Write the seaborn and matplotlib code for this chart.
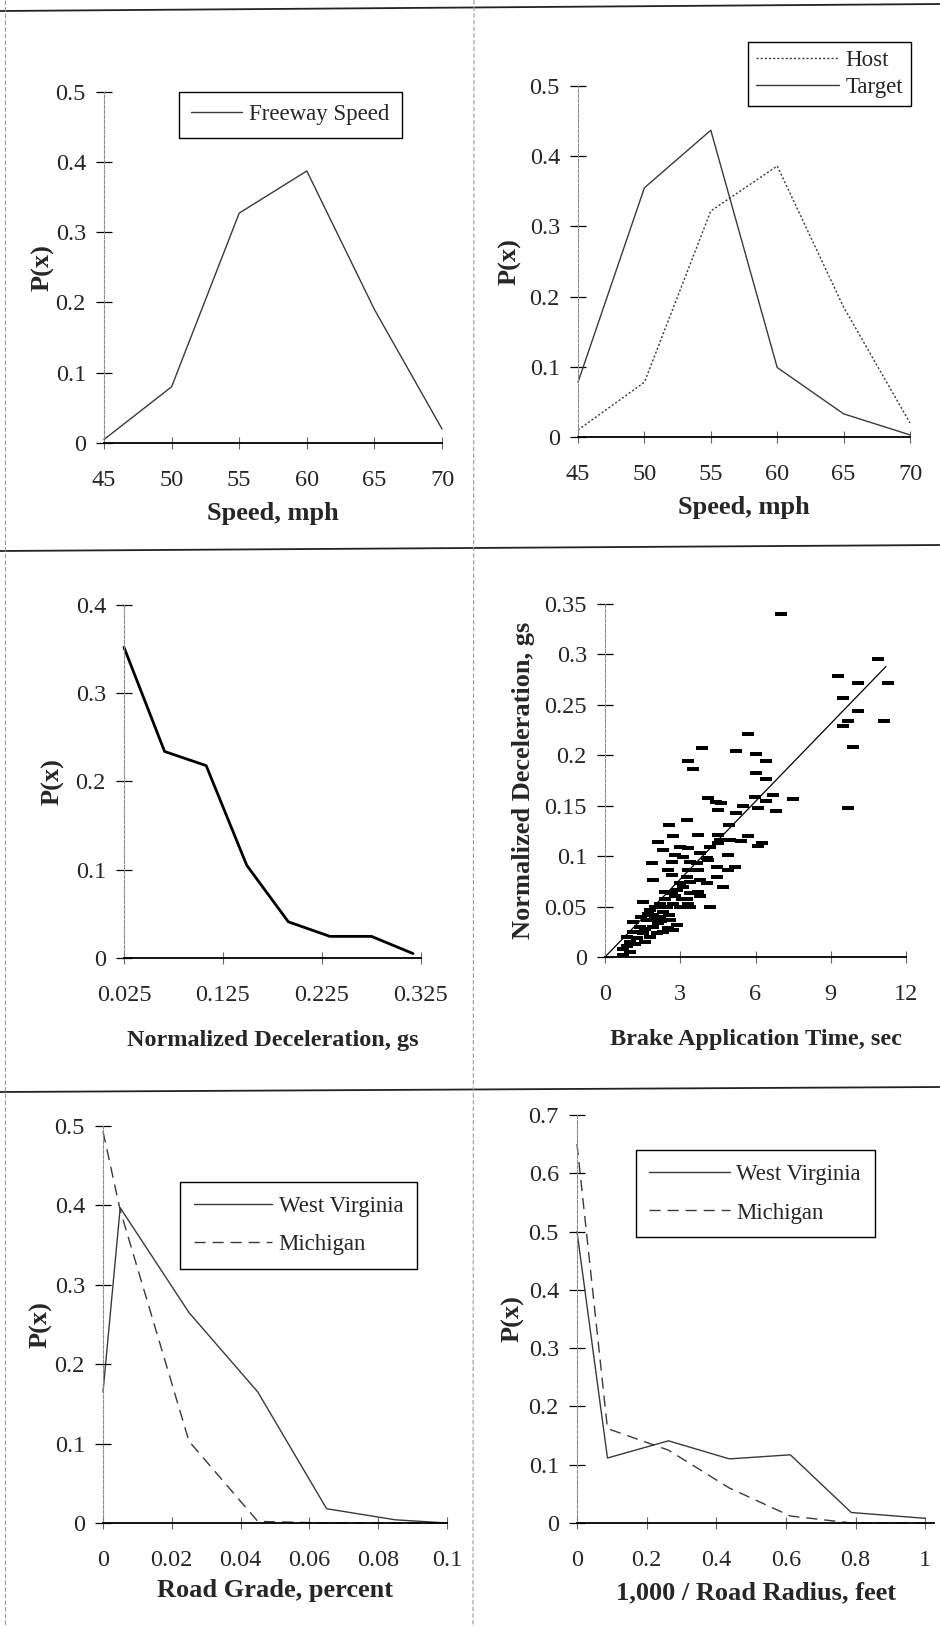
import matplotlib

matplotlib.use("Agg")

import matplotlib.pyplot as plt
import numpy as np
import pandas as pd
import seaborn as sns
from matplotlib.lines import Line2D
from matplotlib.ticker import FuncFormatter

# --- data ---
speed_mph = [45, 50, 55, 60, 65, 70]
freeway_p = [0.005, 0.08, 0.327, 0.387, 0.19, 0.02]
host_p = [0.01, 0.078, 0.322, 0.386, 0.185, 0.02]
target_p = [0.078, 0.355, 0.437, 0.099, 0.033, 0.003]

decel_gs = [0.025, 0.066, 0.108, 0.149, 0.191, 0.233, 0.275, 0.317]
decel_p = [0.352, 0.234, 0.218, 0.105, 0.041, 0.0245, 0.0245, 0.005]

brake_time = [
    7.03, 10.88, 9.28, 11.27, 10.08, 9.48, 10.08, 9.68, 11.14, 9.48, 9.88, 9.68,
    5.70, 5.24, 6.03, 6.43, 6.03, 6.43, 5.97, 6.70, 6.10, 6.43, 6.83, 7.49, 5.50,
    5.24, 5.70, 5.44, 6.27, 6.10,
    3.87, 3.32, 3.51, 4.11, 4.44, 4.64, 4.51, 3.25, 2.56, 4.95, 3.71, 2.72, 4.51,
    4.58, 4.97,
    2.12, 2.99, 3.32, 4.18, 4.51, 2.32, 2.79, 3.12, 3.78, 4.05, 4.91,
    1.86, 2.66, 3.39, 3.65, 4.12, 4.45, 5.18, 4.91, 2.52, 2.66, 3.32, 3.72, 4.45,
    1.93, 3.26, 2.99, 3.39, 3.78, 4.05, 4.71, 2.39, 2.66, 2.86, 3.12, 3.39, 3.72,
    3.26, 3.78, 1.53, 2.19, 2.46, 2.72, 2.99, 3.32, 3.39, 4.18, 1.79, 1.93, 2.19,
    1.66, 2.12, 2.59, 1.13, 1.39, 2.86, 2.52, 1.13, 1.53, 1.79, 2.06, 0.86, 1.26,
    2.72, 1.60, 1.90, 2.30, 2.00, 1.70, 2.40, 2.80, 2.00, 1.45, 1.00, 0.73, 0.99,
    0.86, 1.20, 0.70, 1.60, 2.30, 2.55, 3.05, 2.25,
]
brake_decel = [
    0.340, 0.295, 0.279, 0.272, 0.272, 0.257, 0.244, 0.234, 0.234, 0.229, 0.208, 0.148,
    0.221, 0.204, 0.201, 0.194, 0.182, 0.176, 0.159, 0.161, 0.148, 0.155, 0.145, 0.157, 0.150,
    0.143, 0.120, 0.115, 0.113, 0.110,
    0.207, 0.194, 0.186, 0.158, 0.154, 0.153, 0.146, 0.136, 0.131, 0.131, 0.121, 0.120, 0.121,
    0.116, 0.116,
    0.114, 0.109, 0.108, 0.109, 0.113, 0.106, 0.101, 0.0995, 0.103, 0.098, 0.101,
    0.093, 0.0945, 0.0945, 0.093, 0.096, 0.0896, 0.0896, 0.086, 0.086, 0.081, 0.086, 0.086, 0.0797,
    0.076, 0.0797, 0.073, 0.0747, 0.076, 0.073, 0.0698, 0.0648, 0.063, 0.0665, 0.0698, 0.063, 0.0648,
    0.058, 0.060, 0.055, 0.053, 0.050, 0.053, 0.050, 0.053, 0.050, 0.050, 0.0466, 0.0417, 0.040,
    0.0367, 0.0334, 0.0367, 0.035, 0.030, 0.0317, 0.0284, 0.025, 0.0235, 0.020, 0.0235, 0.020, 0.0185,
    0.0268, 0.028, 0.030, 0.045, 0.050, 0.043, 0.058, 0.060, 0.038, 0.040, 0.015, 0.002, 0.005,
    0.011, 0.013, 0.008, 0.015, 0.025, 0.042, 0.058, 0.036,
]
trend_time = [0.0, 11.2]
trend_decel = [0.0, 0.288]

road_grade = [0, 0.005, 0.025, 0.045, 0.065, 0.085, 0.1]
grade_wv = [0.165, 0.397, 0.265, 0.165, 0.018, 0.004, 0.0]
grade_mi = [0.493, 0.394, 0.103, 0.002, 0.0, 0.0, 0.0]

curvature = [0, 0.0875, 0.2625, 0.4375, 0.6125, 0.7875, 1.0]
curv_wv = [0.50, 0.1115, 0.141, 0.11, 0.117, 0.018, 0.008]
curv_mi = [0.65, 0.162, 0.125, 0.06, 0.012, 0.0, 0.0]

W, H = 940, 1627

sns.set_style("white")
plt.rcParams["font.family"] = ["Liberation Serif", "DejaVu Serif"]

fig = plt.figure(figsize=(W / 100, H / 100), dpi=100)
fig.patch.set_facecolor("white")

LINE = "#3a3a3a"
fmt = FuncFormatter(lambda v, _: f"{v:g}")


def add_panel(left, right, top, bottom):
    ax = fig.add_axes([left / W, 1 - bottom / H, (right - left) / W, (bottom - top) / H])
    ax.set_facecolor("none")
    sns.despine(ax=ax)
    ax.spines["left"].set_color("#8a8a8a")
    ax.spines["left"].set_linewidth(0.8)
    ax.spines["left"].set_linestyle((0, (3, 1.5)))
    ax.spines["bottom"].set_color("black")
    ax.spines["bottom"].set_linewidth(1.3)
    ax.tick_params(axis="y", direction="inout", length=12, width=0.9, color="black",
                   labelsize=17.5, pad=7, left=True)
    ax.tick_params(axis="x", direction="inout", length=9, width=0.8, color="#666666",
                   labelsize=17.5, pad=15, bottom=True)
    ax.xaxis.set_major_formatter(fmt)
    ax.yaxis.set_major_formatter(fmt)
    return ax


def labels(ax, xlabel, ylabel, xl_y, yl_x, xsize=19, ysize=19):
    ax.set_xlabel(xlabel, fontsize=xsize, fontweight="bold")
    ax.set_ylabel(ylabel, fontsize=ysize, fontweight="bold")
    ax.xaxis.set_label_coords(0.5, xl_y)
    ax.yaxis.set_label_coords(yl_x, 0.5)
    ax.xaxis.label.set_va("center")
    ax.yaxis.label.set_va("center")


def legend(ax, x, y, hl, spacing, pad=0.45):
    leg = ax.legend(loc="upper left", bbox_to_anchor=(x, y), frameon=True, fancybox=False,
                    edgecolor="black", framealpha=1, fontsize=16.5, handlelength=hl,
                    labelspacing=spacing, borderpad=pad, handletextpad=0.3,
                    borderaxespad=0)
    leg.get_frame().set_linewidth(1.0)


# --- top left: freeway speed ---
ax1 = add_panel(104, 442, 91.5, 443)
sns.lineplot(x=speed_mph, y=freeway_p, ax=ax1, color=LINE, linewidth=1.0,
             label="Freeway Speed", clip_on=False)
ax1.set_xlim(45, 70)
ax1.set_ylim(0, 0.5)
ax1.set_xticks(speed_mph)
ax1.set_yticks(np.arange(0, 0.51, 0.1))
labels(ax1, "Speed, mph", "P(x)", -0.2, -0.18)
legend(ax1, 0.221, 1.0, 2.2, 0.4, pad=0.55)

# --- top right: host / target speed ---
ax2 = add_panel(578, 910, 86, 437)
sns.lineplot(x=speed_mph, y=host_p, ax=ax2, color=LINE, linewidth=1.0,
             linestyle=(0, (1.5, 1.5)), label="Host", clip_on=False)
sns.lineplot(x=speed_mph, y=target_p, ax=ax2, color=LINE, linewidth=1.0,
             label="Target", clip_on=False)
ax2.set_xlim(45, 70)
ax2.set_ylim(0, 0.5)
ax2.set_xticks(speed_mph)
ax2.set_yticks(np.arange(0, 0.51, 0.1))
labels(ax2, "Speed, mph", "P(x)", -0.2, -0.205)
legend(ax2, 0.513, 1.126, 3.6, 0.25, pad=0.35)

# --- middle left: normalized deceleration distribution ---
ax3 = add_panel(124, 421, 605, 958)
sns.lineplot(x=decel_gs, y=decel_p, ax=ax3, color="black", linewidth=2.0, clip_on=False)
ax3.set_xlim(0.025, 0.325)
ax3.set_ylim(0, 0.4)
ax3.set_xticks([0.025, 0.125, 0.225, 0.325])
ax3.set_yticks(np.arange(0, 0.41, 0.1))
labels(ax3, "Normalized Deceleration, gs", "P(x)", -0.235, -0.24, xsize=17.5)

# --- middle right: deceleration vs brake application time ---
ax4 = add_panel(605, 906, 604, 957)
dash = [(-1, -0.42), (1, -0.42), (1, 0.42), (-1, 0.42), (-1, -0.42)]
sns.scatterplot(x=brake_time, y=brake_decel, ax=ax4, marker=dash, s=72,
                color="black", linewidth=0, clip_on=False)
sns.lineplot(x=trend_time, y=trend_decel, ax=ax4, color="black", linewidth=0.9)
ax4.set_xlim(0, 12)
ax4.set_ylim(0, 0.35)
ax4.set_xticks([0, 3, 6, 9, 12])
ax4.set_yticks(np.arange(0, 0.351, 0.05))
labels(ax4, "Brake Application Time, sec", "Normalized Deceleration, gs", -0.235, -0.27,
       xsize=17.5, ysize=19)

# --- bottom left: road grade ---
ax5 = add_panel(103, 447, 1126, 1523)
sns.lineplot(x=road_grade, y=grade_wv, ax=ax5, color=LINE, linewidth=1.0,
             label="West Virginia", clip_on=False)
sns.lineplot(x=road_grade, y=grade_mi, ax=ax5, color=LINE, linewidth=1.0,
             linestyle=(0, (8, 5)), label="Michigan", clip_on=False)
ax5.set_xlim(0, 0.1)
ax5.set_ylim(0, 0.5)
ax5.set_xticks(np.arange(0, 0.101, 0.02))
ax5.set_yticks(np.arange(0, 0.51, 0.1))
labels(ax5, "Road Grade, percent", "P(x)", -0.17, -0.18)
legend(ax5, 0.224, 0.859, 3.4, 0.75, pad=0.6)

# --- bottom right: road curvature ---
ax6 = add_panel(577, 934, 1115, 1523)
sns.lineplot(x=curvature, y=curv_wv, ax=ax6, color=LINE, linewidth=1.0,
             label="West Virginia", clip_on=False)
sns.lineplot(x=curvature, y=curv_mi, ax=ax6, color=LINE, linewidth=1.0,
             linestyle=(0, (8, 5)), label="Michigan", clip_on=False)
ax6.set_xlim(0, 1.025)
ax6.set_ylim(0, 0.7)
ax6.set_xticks(np.arange(0, 1.01, 0.2))
ax6.set_yticks(np.arange(0, 0.71, 0.1))
labels(ax6, "1,000 / Road Radius, feet", "P(x)", -0.17, -0.18)
legend(ax6, 0.164, 0.913, 3.5, 0.75, pad=0.6)

# --- page rules of the scanned figure ---
def rule(x0, y0, x1, y1, **kw):
    fig.add_artist(Line2D([x0 / W, x1 / W], [1 - y0 / H, 1 - y1 / H],
                          transform=fig.transFigure, **kw))


rule(0, 11, 940, 4, color="#222222", linewidth=1.3)
rule(0, 551, 940, 545, color="#222222", linewidth=1.3)
rule(0, 1092, 940, 1087, color="#222222", linewidth=1.3)
rule(474, 0, 473, 1627, color="#9a9a9a", linewidth=0.8, linestyle=(0, (4, 2)))
rule(5, 0, 5, 1627, color="#9a9a9a", linewidth=0.8, linestyle=(0, (4, 2)))

fig.savefig("out.png", dpi=100)
